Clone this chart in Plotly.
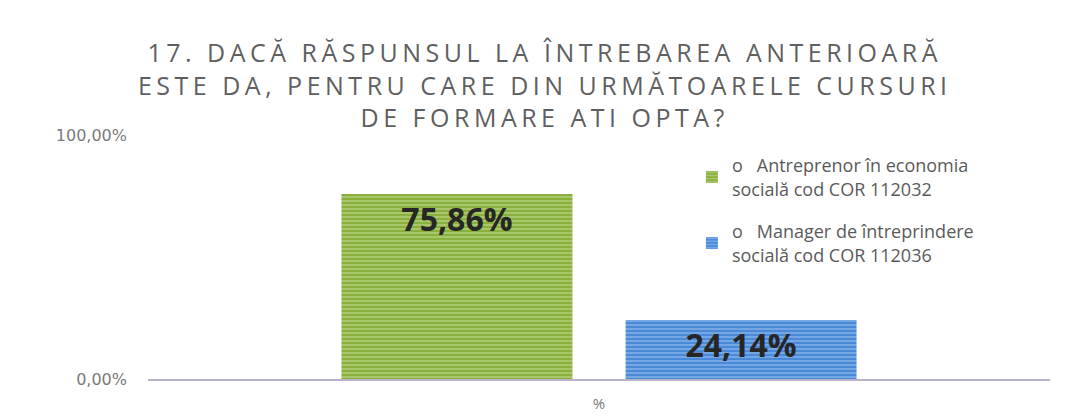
import plotly.graph_objects as go

categories = ["%"]
series_names = [
    "o   Antreprenor în economia<br>socială cod COR 112032",
    "o   Manager de întreprindere<br>socială cod COR 112036",
]
series_values = [[75.86], [24.14]]
value_labels = ["75,86%", "24,14%"]
tick_vals = [0, 100]
tick_text = ["0,00%", "100,00%"]
colors = ["#89af3c", "#4a88d8"]
stripe_colors = ["#cfe4a6", "#a9cdf4"]

title_lines = [
    "17. DACĂ RĂSPUNSUL LA ÎNTREBAREA ANTERIOARĂ",
    "ESTE DA, PENTRU CARE DIN URMĂTOARELE CURSURI",
    "DE FORMARE ATI OPTA?",
]

span = '<span style="letter-spacing:4.5px">{}</span>'
title_text = "<br>".join(span.format(t) for t in title_lines)

fig = go.Figure()
for i, (name, vals, lab, c, sc) in enumerate(zip(series_names, series_values, value_labels, colors, stripe_colors)):
    fig.add_trace(go.Bar(
        x=categories, y=vals, name=name, legendgroup=f"g{i}",
        text=[lab], textposition="inside", insidetextanchor="end",
        textfont=dict(family="Open Sans", size=32, color="#262626", weight="bold"),
        marker=dict(color=c, line=dict(width=0),
                    pattern=dict(shape="-", fgcolor=sc, bgcolor=c, size=4, solidity=0.45)),
    ))

fig.update_layout(
    width=1065, height=416,
    margin=dict(l=140, r=23, t=127, b=45),
    paper_bgcolor="white", plot_bgcolor="white",
    barmode="group", bargap=0.37, bargroupgap=0.187,
    title=dict(
        text=title_text,
        x=0.504, xanchor="center", y=0.87, yanchor="top",
        font=dict(family="Open Sans", size=25, color="#5f5f5f"),
    ),
    showlegend=True,
    legend=dict(x=0.603, y=0.95, xanchor="left", yanchor="top",
                font=dict(family="Open Sans", size=18, color="#5a5a5a"),
                bgcolor="rgba(0,0,0,0)", tracegroupgap=16, itemwidth=30),
    uniformtext=dict(minsize=10, mode="show"),
)
fig.update_xaxes(showgrid=False, showline=True, linecolor="#b9b2c9", linewidth=2,
                 ticks="", ticklabelstandoff=10, automargin=False,
                 tickfont=dict(family="Open Sans", size=15, color="#7a7a7a"))
fig.update_yaxes(range=[0, 100], tickvals=tick_vals, ticktext=tick_text, showgrid=False,
                 zeroline=False, showline=False, ticks="", ticklabelstandoff=20, automargin=False,
                 tickfont=dict(family="DejaVu Sans", size=16, color="#7a7a7a"))

fig.write_html("out.html")
